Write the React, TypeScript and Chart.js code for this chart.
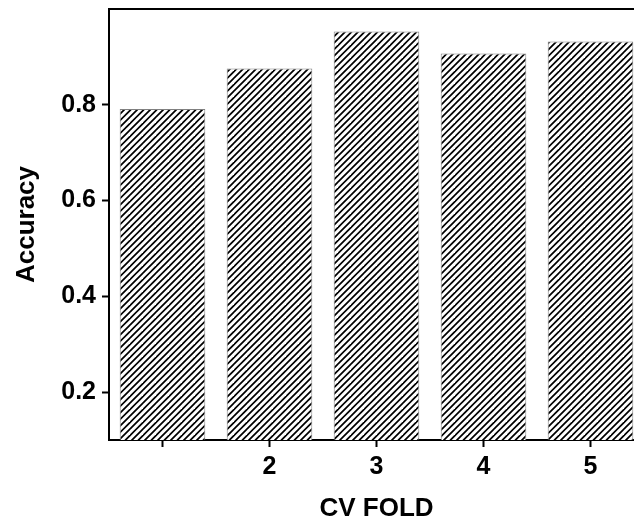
import React, { useEffect, useRef } from "react";
import { Chart, registerables } from "chart.js";

Chart.register(...registerables);

const categories = ["1", "2", "3", "4", "5"];
const xTickLabels = ["", "2", "3", "4", "5"];
const accuracy = [0.791, 0.876, 0.953, 0.907, 0.932];
const yTicks = [0.2, 0.4, 0.6, 0.8];
const yMin = 0.1;
const yMax = 1.0;

function makeHatch(): CanvasPattern | string {
  const t = 13;
  const c = document.createElement("canvas");
  c.width = t;
  c.height = t;
  const ctx = c.getContext("2d");
  if (!ctx) return "#888";
  ctx.fillStyle = "#ffffff";
  ctx.fillRect(0, 0, t, t);
  ctx.strokeStyle = "#000000";
  ctx.lineWidth = 1.7;
  ctx.lineCap = "square";
  for (const k of [-6.5, 0, 6.5, 13, 19.5, 26, 32.5]) {
    ctx.beginPath();
    ctx.moveTo(k, 0);
    ctx.lineTo(k - t, t);
    ctx.stroke();
  }
  const p = ctx.createPattern(c, "repeat");
  return p || "#888";
}

const frame = {
  id: "frame",
  afterDraw(chart: any) {
    const { ctx, chartArea } = chart;
    ctx.save();
    ctx.strokeStyle = "#000";
    ctx.lineWidth = 2;
    ctx.beginPath();
    ctx.moveTo(chartArea.left - 1, chartArea.top);
    ctx.lineTo(chartArea.right, chartArea.top);
    ctx.lineTo(chartArea.right, chartArea.bottom);
    ctx.stroke();
    ctx.restore();
  },
};

export default function App() {
  const ref = useRef<HTMLCanvasElement>(null);
  useEffect(() => {
    if (!ref.current) return;
    const font = { family: "'Liberation Sans', Arial, sans-serif", weight: "bold" as const };
    const chart = new Chart(ref.current, {
      type: "bar",
      data: {
        labels: categories,
        datasets: [
          {
            data: accuracy,
            backgroundColor: makeHatch() as any,
            borderColor: "#808080",
            borderWidth: 1,
            borderSkipped: false,
            barPercentage: 0.8,
            categoryPercentage: 1.0,
          },
        ],
      },
      options: {
        animation: false,
        responsive: false,
        maintainAspectRatio: false,
        layout: { padding: { left: 0, top: 9, right: 6, bottom: 0 } },
        plugins: { legend: { display: false }, tooltip: { enabled: false } },
        scales: {
          x: {
            grid: { display: true, offset: false, drawOnChartArea: false, tickLength: 7, tickWidth: 2, color: "#000" },
            border: { display: true, width: 2, color: "#000" },
            ticks: {
              color: "#000",
              font: { ...font, size: 25 },
              padding: 5,
              maxRotation: 0,
              callback: (_v: any, i: number) => xTickLabels[i],
            },
            title: {
              display: true,
              text: "CV FOLD",
              color: "#000",
              font: { ...font, size: 26 },
              padding: { top: 0, bottom: 0 },
            },
            afterFit: (scale: any) => {
              scale.height = 84;
              scale.paddingLeft = 0;
              scale.paddingRight = 0;
            },
          },
          y: {
            min: yMin,
            max: yMax,
            grid: { display: true, drawOnChartArea: false, tickLength: 7, tickWidth: 2, color: "#000" },
            border: { display: true, width: 2, color: "#000" },
            afterBuildTicks: (scale: any) => {
              scale.ticks = yTicks.map((v) => ({ value: v }));
            },
            ticks: {
              color: "#000",
              font: { ...font, size: 25 },
              padding: 6,
              callback: (v: any) => Number(v).toFixed(1),
            },
            title: {
              display: true,
              text: "Accuracy",
              color: "#000",
              font: { ...font, size: 26 },
              padding: { top: 11, bottom: 0 },
            },
            afterFit: (scale: any) => {
              scale.width = 109;
              scale.paddingTop = 0;
              scale.paddingBottom = 0;
            },
          },
        },
      },
      plugins: [frame],
    });
    return () => chart.destroy();
  }, []);
  return (
    <div
      style={{
        position: "fixed",
        left: 0,
        top: 0,
        width: 634,
        height: 524,
        overflow: "hidden",
        background: "#fff",
      }}
    >
      <canvas ref={ref} width={650} height={524} style={{ display: "block", width: 650, height: 524 }} />
    </div>
  );
}
